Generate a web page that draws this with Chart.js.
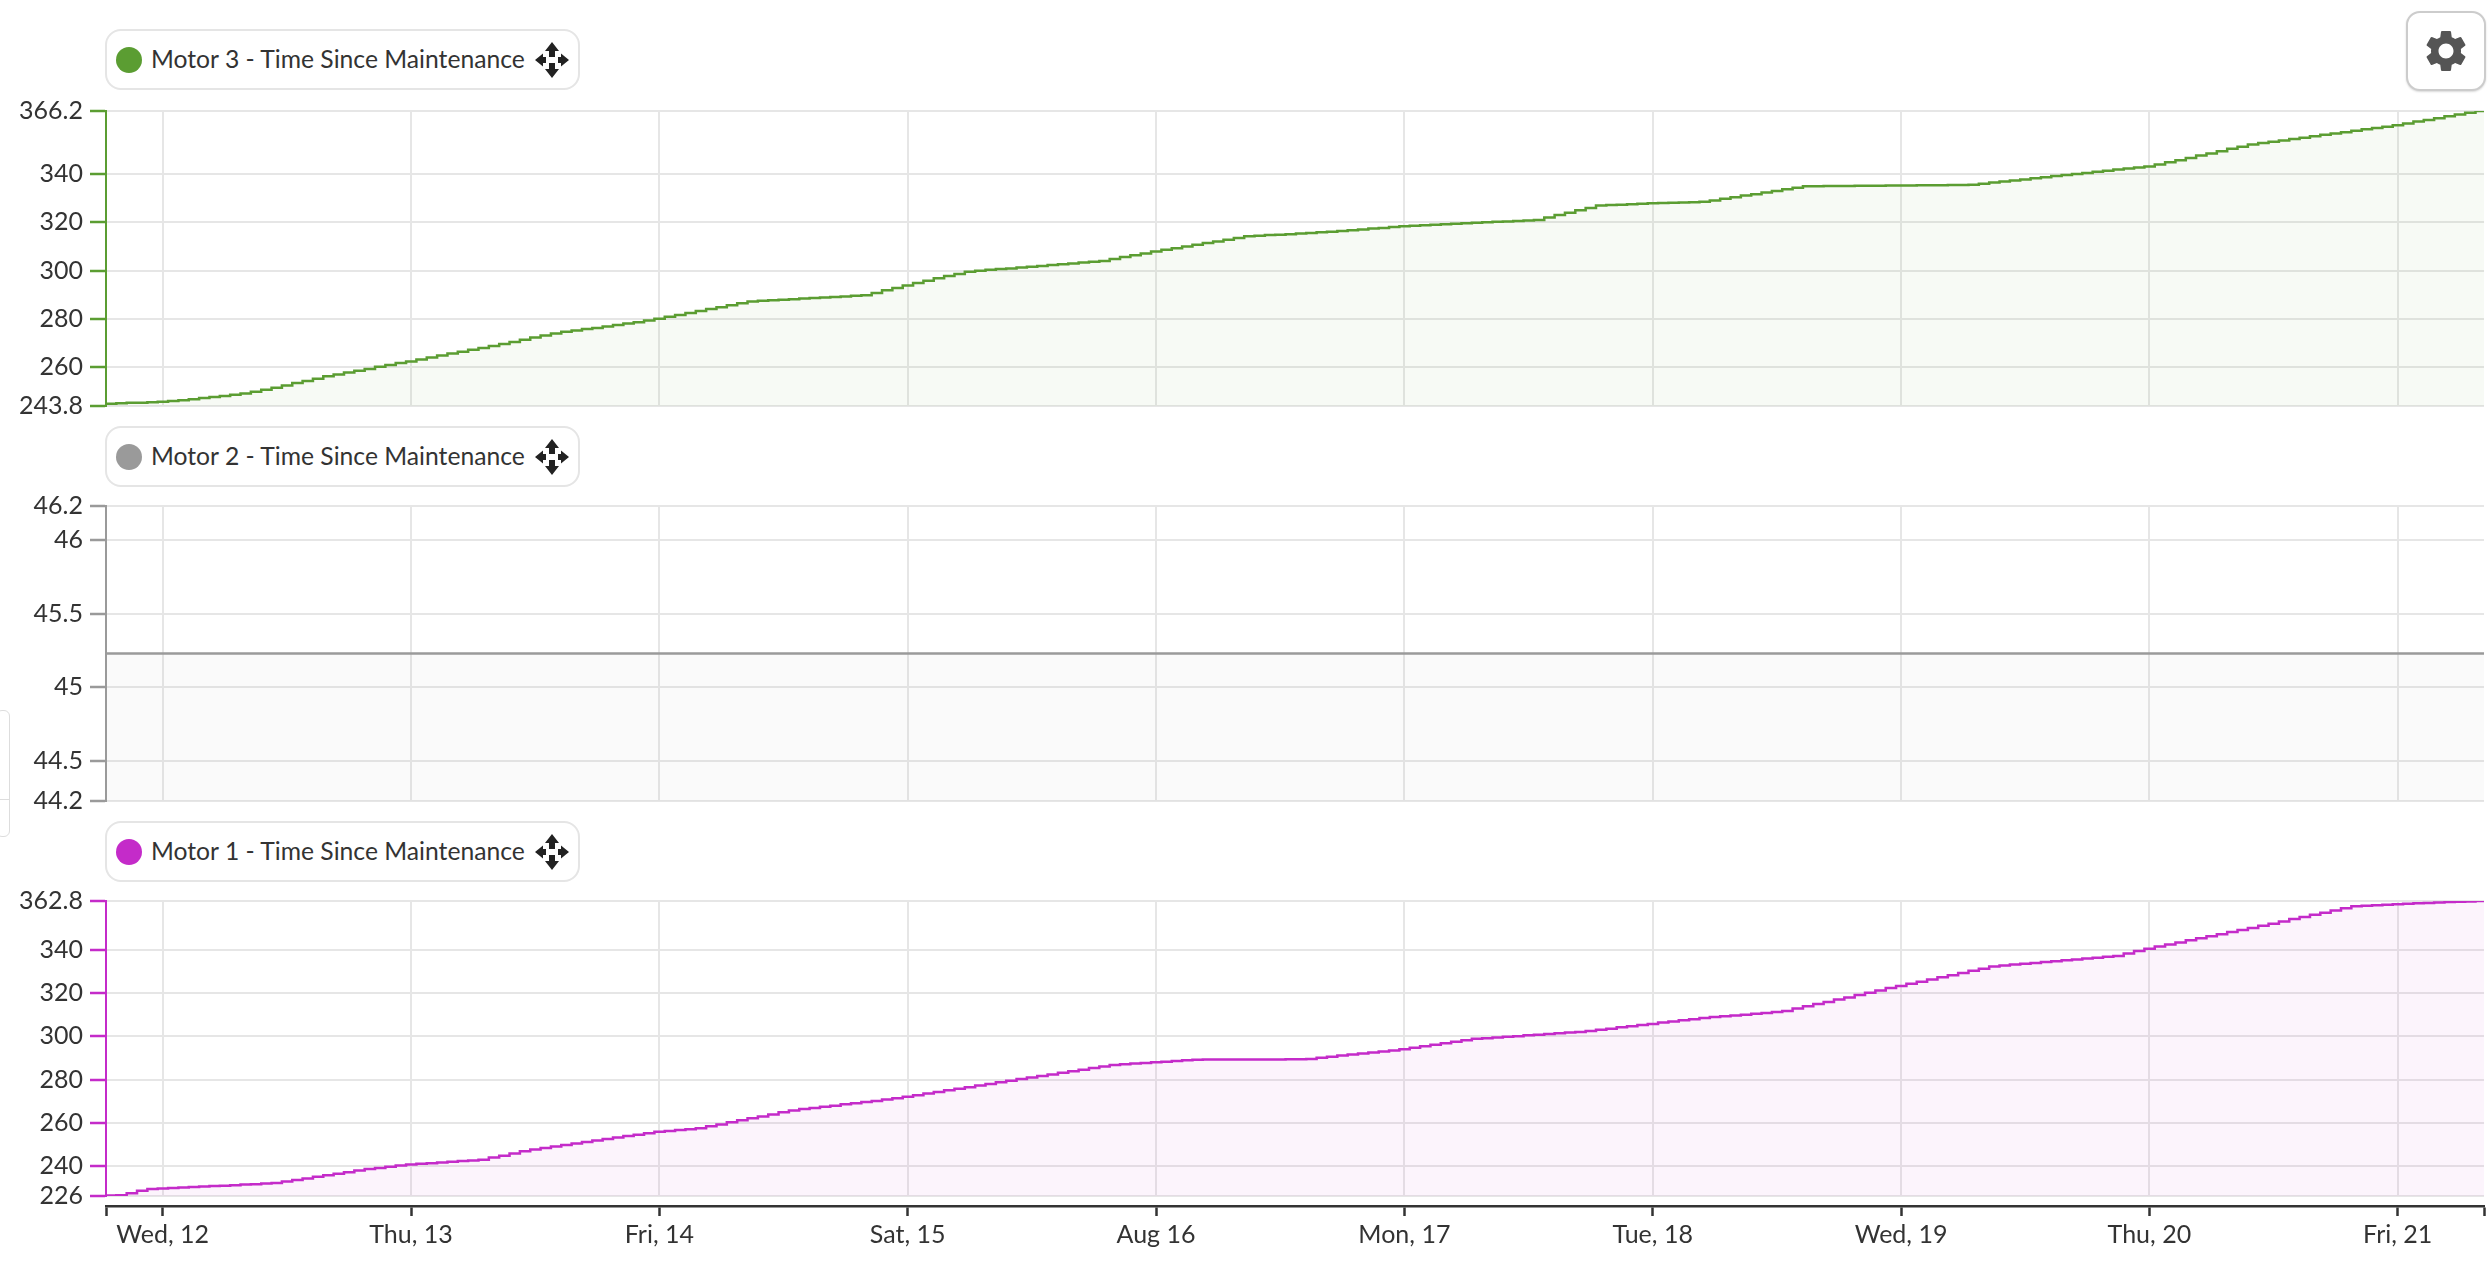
<!DOCTYPE html>
<html>
<head>
<meta charset="utf-8">
<title>Time Since Maintenance</title>
<script src="https://cdn.jsdelivr.net/npm/chart.js@4"></script>
<style>
  html, body { margin: 0; padding: 0; background: #fff; }
  body { position: relative; width: 2492px; height: 1262px; overflow: hidden; font-family: Lato, sans-serif; }
  canvas { position: absolute; left: 0; }
  .chip {
    position: absolute; left: 105px; width: 471px; height: 57px; background: #fff;
    border: 2px solid #e5e5e5; border-radius: 16px; z-index: 2;
  }
  .chip .dot { position: absolute; left: 9px; top: 15.5px; width: 26px; height: 26px; border-radius: 50%; }
  .chip .name { position: absolute; left: 44px; top: 0; line-height: 55px; font-size: 24.7px; color: #333; white-space: nowrap; }
  .chip svg { position: absolute; left: 428px; top: 11px; width: 34px; height: 36px; }
  #gear {
    position: absolute; left: 2406px; top: 11px; width: 76px; height: 76px; background: #fff;
    border: 2px solid #ccc; border-radius: 14px; box-shadow: 0 1px 2px rgba(0,0,0,.15); z-index: 2;
  }
  #gear svg { position: absolute; left: 13px; top: 13px; width: 50px; height: 50px; fill: #555; }
  #sidetab {
    position: absolute; left: -4px; top: 710px; width: 12px; height: 125px; background: #fff;
    border: 1px solid #ddd; border-radius: 6px;
  }
  #sidetab div { position: absolute; left: 0; right: 0; top: 88px; border-top: 1px solid #ddd; }
</style>
</head>
<body>
<div id="sidetab"><div></div></div>
<div id="gear"><svg viewBox="0 0 24 24"><path d="M19.14 12.94c.04-.3.06-.61.06-.94 0-.32-.02-.64-.07-.94l2.03-1.58c.18-.14.23-.41.12-.61l-1.92-3.32c-.12-.22-.37-.29-.59-.22l-2.39.96c-.5-.38-1.03-.7-1.62-.94l-.36-2.54c-.04-.24-.24-.41-.48-.41h-3.84c-.24 0-.43.17-.47.41l-.36 2.54c-.59.24-1.13.57-1.62.94l-2.39-.96c-.22-.08-.47 0-.59.22L2.74 8.87c-.12.21-.08.47.12.61l2.03 1.58c-.05.3-.09.63-.09.94s.02.64.07.94l-2.03 1.58c-.18.14-.23.41-.12.61l1.92 3.32c.12.22.37.29.59.22l2.39-.96c.5.38 1.03.7 1.62.94l.36 2.54c.05.24.24.41.48.41h3.84c.24 0 .44-.17.47-.41l.36-2.54c.59-.24 1.13-.56 1.62-.94l2.39.96c.22.08.47 0 .59-.22l1.92-3.32c.12-.22.07-.47-.12-.61l-2.01-1.58zM12 15.6c-1.98 0-3.6-1.62-3.6-3.6s1.62-3.6 3.6-3.6 3.6 1.62 3.6 3.6-1.62 3.6-3.6 3.6z"/></svg></div>

<canvas id="c3" width="2492" height="343" style="top:87px"></canvas>
<canvas id="c2" width="2492" height="343" style="top:482px"></canvas>
<canvas id="c1" width="2492" height="343" style="top:877px"></canvas>
<canvas id="cx" width="2492" height="66" style="top:1196px"></canvas>

<script>
// x axis is in hours from Wed 12, 00:00
const dayLabels = ['Wed, 12', 'Thu, 13', 'Fri, 14', 'Sat, 15', 'Aug 16', 'Mon, 17', 'Tue, 18', 'Wed, 19', 'Thu, 20', 'Fri, 21'];
const dayHours = [0, 24, 48, 72, 96, 120, 144, 168, 192, 216];
const xMin = -5.48;
const xMax = 224.34;

const motor3Ticks = [243.8, 260, 280, 300, 320, 340, 366.2];
// the end ticks are the line value +/- 1, shown rounded to 44.2 and 46.2
const motor2Ticks = [44.23, 44.5, 45, 45.5, 46, 46.23];
const motor1Ticks = [226, 240, 260, 280, 300, 320, 340, 362.8];

// one reading per hour
const motor3Values = [244.7,
  244.7,244.9,245.1,245.2,245.4,245.6,245.9,246.2,246.6,247.1,247.5,248.0,248.5,249.0,249.7,250.5,
  251.4,252.3,253.3,254.2,255.1,256.1,256.9,257.7,258.4,259.2,260.1,260.8,261.6,262.3,
  263.1,263.9,264.8,265.6,266.3,267.1,267.9,268.7,269.5,270.4,271.3,272.2,273.1,273.9,
  274.6,275.1,275.7,276.2,276.8,277.4,278.0,278.6,279.3,280.0,
  280.8,281.6,282.4,283.2,284.0,284.8,285.6,286.4,287.2,
  287.5,287.7,287.9,288.1,288.4,288.6,288.8,289.0,289.2,289.5,289.8,290.7,291.8,292.8,293.8,
  294.8,295.8,296.8,297.7,298.6,299.5,299.9,300.3,300.6,300.9,301.3,301.6,301.9,302.3,302.6,302.9,303.3,303.6,304.0,
  304.8,305.6,306.3,307.1,307.9,308.6,309.3,310.0,310.7,311.4,312.1,312.8,313.5,314.2,
  314.4,314.7,314.9,315.1,315.4,315.6,315.9,316.1,316.4,316.7,317.0,317.4,317.7,318.1,318.4,
  318.6,318.8,319.0,319.2,319.4,319.6,319.8,320.0,320.2,320.4,320.6,320.8,321.0,
  322.0,323.0,324.0,325.0,326.0,327.0,327.2,327.3,327.5,327.7,327.9,328.0,328.1,328.2,328.3,328.5,
  329.1,329.8,330.4,331.1,331.7,332.4,333.0,333.7,334.4,335.0,
  335.0,335.1,335.1,335.1,335.2,335.2,335.2,335.3,335.3,335.3,335.4,335.4,335.4,335.5,335.5,335.6,
  336.0,336.5,336.9,337.4,337.8,338.3,338.7,339.2,339.6,340.1,340.5,341.0,341.4,341.9,342.3,342.8,343.2,
  344.0,344.9,345.8,346.7,347.7,348.6,349.5,350.5,351.4,352.3,
  352.9,353.4,354.0,354.6,355.1,355.7,356.3,356.9,357.4,358.0,358.6,359.1,359.7,360.3,
  361.0,361.8,362.5,363.2,364.0,364.7,365.5,366.2,366.2];

const motor2Values = [45.23, 45.23];

const motor1Values = [226.2,
  226.2,226.3,227.3,228.4,229.3,229.5,229.7,229.9,230.2,230.4,230.6,230.8,231.0,231.3,231.5,231.8,232.0,
  232.7,233.4,234.1,234.9,235.6,236.3,237.0,237.8,238.5,239.0,239.6,240.1,240.6,
  240.9,241.2,241.5,241.9,242.2,242.5,242.8,243.8,244.7,245.7,246.7,247.6,
  248.3,249.0,249.7,250.4,251.0,251.7,252.4,253.1,253.8,254.4,255.1,255.8,
  256.2,256.6,257.0,257.4,258.3,259.2,260.2,261.1,262.0,262.9,263.8,264.8,265.7,
  266.3,266.8,267.4,267.9,268.5,269.0,269.6,270.1,270.7,271.3,272.0,
  272.7,273.5,274.2,275.0,275.7,276.4,277.2,277.9,278.7,279.4,280.2,280.9,281.6,282.4,283.1,283.9,284.6,285.3,286.1,286.8,
  287.1,287.4,287.7,288.0,288.3,288.6,288.9,289.2,289.3,289.3,289.3,289.3,289.3,289.3,289.3,289.3,289.4,289.4,289.5,
  290.1,290.6,291.1,291.6,292.1,292.6,293.0,293.5,294.0,
  294.7,295.4,296.1,296.8,297.5,298.2,298.9,299.2,299.5,299.8,300.1,300.5,300.8,301.1,301.5,301.8,302.1,302.5,
  303.1,303.6,304.2,304.7,305.3,305.8,306.4,306.9,307.5,308.0,308.6,
  309.0,309.4,309.7,310.1,310.5,310.9,311.3,311.8,
  312.9,314.0,315.0,316.0,317.1,318.1,319.2,320.3,321.3,322.4,323.4,
  324.4,325.4,326.4,327.4,328.4,329.4,330.4,331.4,332.4,
  332.9,333.3,333.7,334.1,334.5,334.9,335.3,335.7,336.1,336.5,336.9,337.3,338.4,339.6,340.7,
  341.7,342.6,343.6,344.6,345.5,346.5,347.4,348.4,349.3,350.3,
  351.3,352.3,353.3,354.4,355.4,356.4,357.4,358.4,359.4,360.4,
  360.6,360.8,361.1,361.3,361.5,361.7,361.9,362.1,362.3,362.4,362.6,362.8,362.8];

const GRID = '#e6e6e6';
const TEXT = '#333';
const FONT = { family: 'Lato', size: 25 };

function addChip(top, color, title) {
  let chip = document.createElement('div');
  chip.className = 'chip';
  chip.style.top = top + 'px';
  chip.innerHTML = '<span class="dot" style="background:' + color + '"></span><span class="name">' + title + '</span>' +
    '<svg viewBox="0 0 34 36"><path fill="#222" d="M17 0l7 9h-4v6h-6V9h-4zM17 36l-7-9h4v-6h6v6h4zM0 18l8-6.5V15h3v6H8v3.500zM34 18l-8 6.500V21h-3v-6h3v-3.500z"/></svg>';
  document.body.appendChild(chip);
}

function panel(id, color, fillColor, hours, values, ticks) {
  new Chart(document.getElementById(id), {
    type: 'line',
    data: {
      datasets: [{
        data: values.map((v, i) => ({ x: hours(i), y: v })),
        borderColor: color,
        borderWidth: 2.5,
        backgroundColor: fillColor,
        fill: 'start',
        stepped: 'before',
        pointRadius: 0
      }]
    },
    options: {
      responsive: false,
      animation: false,
      // padding has to stay above half a label plus the tick padding
      layout: { padding: { top: 24, bottom: 24, right: 8, left: 0 } },
      plugins: { legend: { display: false }, tooltip: { enabled: false } },
      scales: {
        x: {
          type: 'linear', min: xMin, max: xMax,
          grid: { color: GRID, lineWidth: 2, drawTicks: false },
          border: { display: false },
          ticks: { display: false },
          afterBuildTicks: s => { s.ticks = dayHours.map(v => ({ value: v })); },
          afterFit: s => { s.height = 0; }
        },
        y: {
          type: 'linear', min: ticks[0], max: ticks[ticks.length - 1],
          grid: { color: GRID, lineWidth: 2, tickColor: color, tickLength: 16, tickWidth: 2.5 },
          border: { color: color, width: 2 },
          ticks: { color: TEXT, font: FONT, padding: 7, autoSkip: false, callback: v => String(Math.round(v * 10) / 10) },
          afterBuildTicks: s => { s.ticks = ticks.map(v => ({ value: v })); },
          afterFit: s => { s.width = 106; }
        }
      }
    }
  });
}

// samples sit one hour ahead of the hour they were read at
const hourly = i => xMin - 1 + i;
const ends = i => (i === 0 ? xMin : xMax);

panel('c3', '#5b9d32', 'rgba(91,157,50,0.05)', hourly, motor3Values, motor3Ticks);
panel('c2', '#9a9a9a', 'rgba(154,154,154,0.05)', ends, motor2Values, motor2Ticks);
panel('c1', '#c42bc9', 'rgba(196,43,201,0.05)', hourly, motor1Values, motor1Ticks);

addChip(29, '#5b9d32', 'Motor 3 - Time Since Maintenance');
addChip(426, '#9a9a9a', 'Motor 2 - Time Since Maintenance');
addChip(821, '#c42bc9', 'Motor 1 - Time Since Maintenance');

// shared date axis sits a little below the last panel
new Chart(document.getElementById('cx'), {
  type: 'line',
  data: { datasets: [] },
  options: {
    responsive: false,
    animation: false,
    layout: { padding: { top: 0, bottom: 0, right: 8, left: 0 } },
    plugins: { legend: { display: false }, tooltip: { enabled: false } },
    scales: {
      x: {
        type: 'linear', min: xMin, max: xMax,
        grid: { drawOnChartArea: false, tickColor: TEXT, tickLength: 10, tickWidth: 2.5 },
        border: { color: TEXT, width: 2.5 },
        ticks: {
          color: TEXT, font: FONT, padding: 4, autoSkip: false, maxRotation: 0,
          callback: v => (dayHours.includes(v) ? dayLabels[dayHours.indexOf(v)] : '')
        },
        afterBuildTicks: s => { s.ticks = [xMin].concat(dayHours, [xMax]).map(v => ({ value: v })); },
        afterFit: s => { s.height = 56; }
      },
      y: { display: false, afterFit: s => { s.width = 106; } }
    }
  }
});
</script>
</body>
</html>
